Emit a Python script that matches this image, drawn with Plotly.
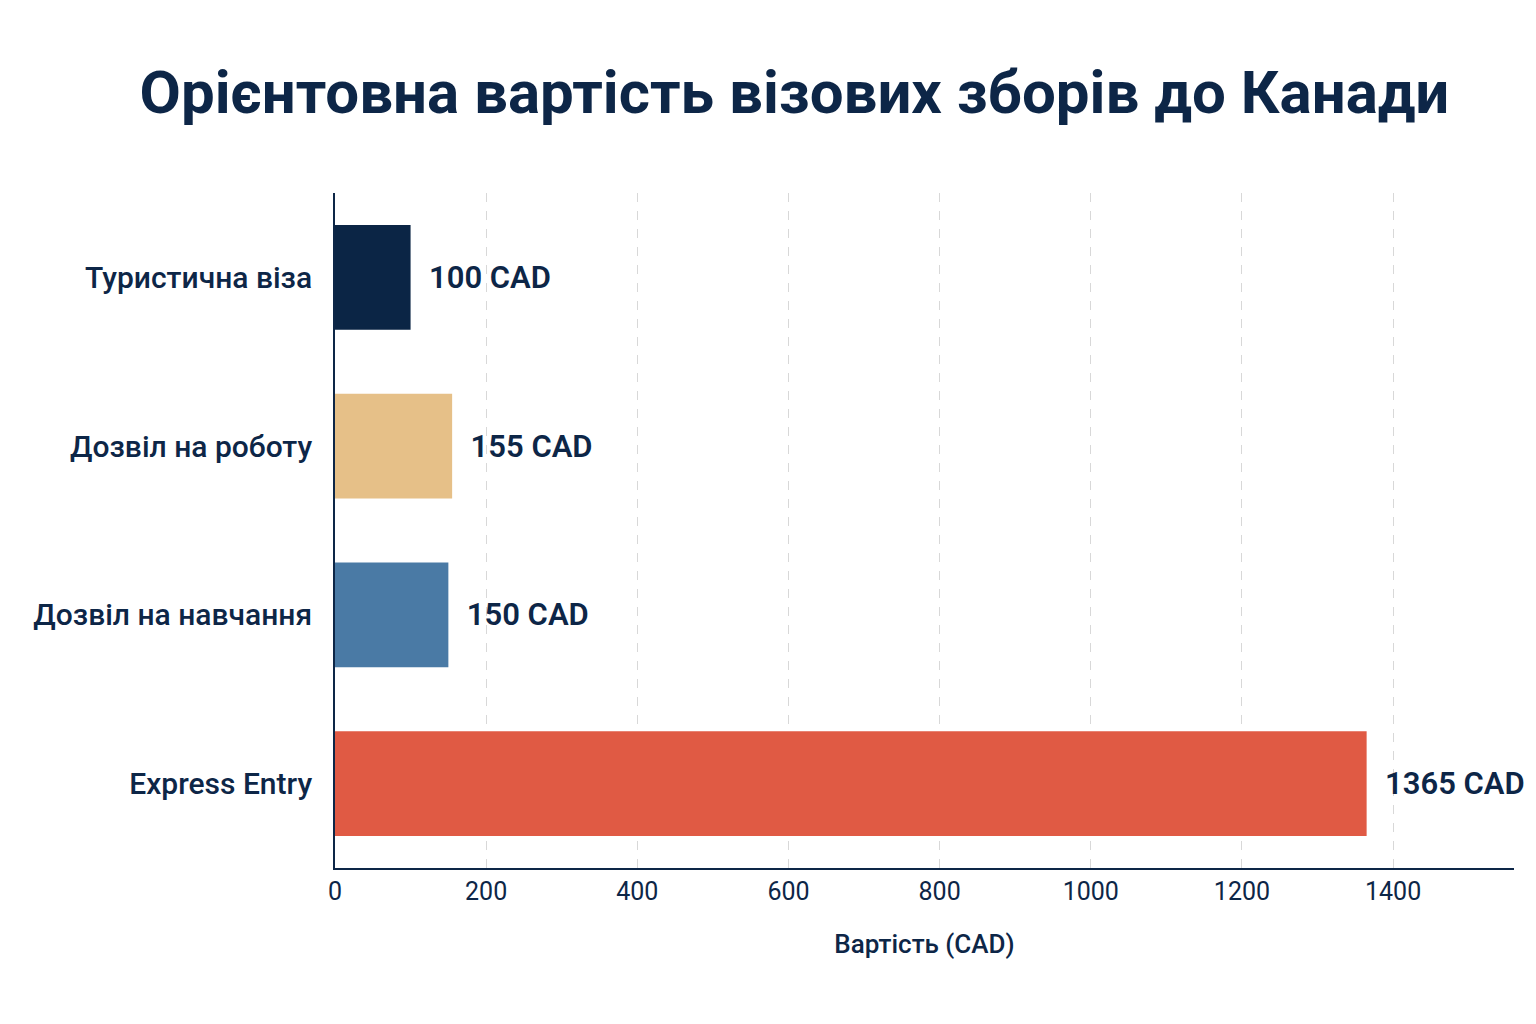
import plotly.graph_objects as go

categories = ["Туристична віза", "Дозвіл на роботу", "Дозвіл на навчання", "Express Entry"]
values = [100, 155, 150, 1365]
labels = ["  100 CAD", "  155 CAD", "  150 CAD", "  1365 CAD"]
colors = ["#0b2545", "#e6c088", "#4a7aa5", "#e05a44"]
ticks = [0, 200, 400, 600, 800, 1000, 1200, 1400]

navy = "#0d2647"

fig = go.Figure(go.Bar(
    y=categories,
    x=values,
    orientation="h",
    marker=dict(color=colors, line=dict(width=0)),
    text=labels,
    textposition="outside",
    textfont=dict(family="Roboto", size=31, color=navy, weight=600),
    cliponaxis=False,
))

fig.update_layout(
    width=1536, height=1024,
    paper_bgcolor="white", plot_bgcolor="white",
    margin=dict(l=327, r=30, t=185, b=164),
    bargap=0.38,
    showlegend=False,
    title=dict(
        text="<b>Орієнтовна вартість візових зборів до Канади</b>",
        x=0.512, xanchor="center", y=0.918, yanchor="middle",
        font=dict(family="Roboto", size=60, color=navy),
    ),
    font=dict(family="Roboto", color=navy),
)

fig.update_xaxes(
    range=[0, 1560],
    tickvals=ticks,
    tickfont=dict(size=25, color=navy),
    showgrid=True, gridcolor="#d8d8d8", griddash="dash", gridwidth=1,
    zeroline=False,
    showline=True, linecolor=navy, linewidth=2,
    ticks="", ticklen=0,
    title=dict(text="Вартість (CAD)", font=dict(size=26, color=navy, weight=500), standoff=30),
)

fig.update_yaxes(
    autorange="reversed",
    tickfont=dict(size=30, color=navy, weight=500),
    showline=True, linecolor=navy, linewidth=2,
    ticksuffix="  ",
    showgrid=False,
)

fig.write_html("out.html")
